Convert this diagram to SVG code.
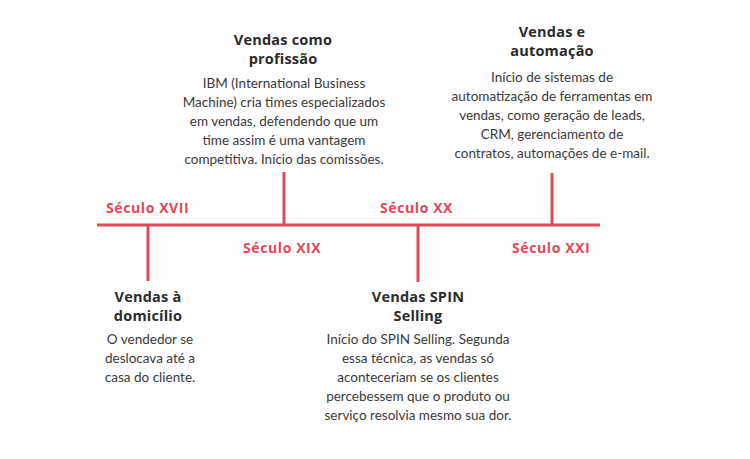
<svg xmlns="http://www.w3.org/2000/svg" width="750" height="459" viewBox="0 0 750 459">
<style>
.ln{stroke:#e04a57;stroke-width:3;fill:none}
.era{font-family:"Open Sans","Liberation Sans",sans-serif;font-weight:bold;font-size:14px;letter-spacing:0.6px;fill:#e04a57}
.t{font-family:"Open Sans","Liberation Sans",sans-serif;font-weight:bold;font-size:14.5px;letter-spacing:0.2px;fill:#2b2b2b;text-anchor:middle}
.b{font-family:Lato,"Liberation Sans",sans-serif;font-size:13.5px;fill:#3a3a3a;text-anchor:middle}
</style>
<rect width="750" height="459" fill="#fff"/>
<g id="connectors">
<line class="ln" x1="97" y1="225" x2="600" y2="225"/>
<line class="ln" x1="148" y1="225" x2="148" y2="281"/>
<line class="ln" x1="284" y1="172" x2="284" y2="225"/>
<line class="ln" x1="418" y1="225" x2="418" y2="282"/>
<line class="ln" x1="552" y1="173" x2="552" y2="225"/>
</g>
<g id="eras">
<text class="era" x="106" y="213">Século XVII</text>
<text class="era" x="243" y="253">Século XIX</text>
<text class="era" x="380" y="213">Século XX</text>
<text class="era" x="512" y="253">Século XXI</text>
</g>
<g id="n1">
<text class="t" x="148" y="302">Vendas à</text>
<text class="t" x="148" y="321">domicílio</text>
<text class="b" x="150" y="344">O vendedor se</text>
<text class="b" x="150" y="363">deslocava até a</text>
<text class="b" x="150" y="382">casa do cliente.</text>
</g>
<g id="n2">
<text class="t" x="283" y="45">Vendas como</text>
<text class="t" x="283" y="64">profissão</text>
<text class="b" x="284" y="88">IBM (International Business</text>
<text class="b" x="284" y="107">Machine) cria times especializados</text>
<text class="b" x="284" y="126">em vendas, defendendo que um</text>
<text class="b" x="284" y="145">time assim é uma vantagem</text>
<text class="b" x="284" y="164">competitiva. Início das comissões.</text>
</g>
<g id="n3">
<text class="t" x="418" y="302">Vendas SPIN</text>
<text class="t" x="418" y="321">Selling</text>
<text class="b" x="418" y="344">Início do SPIN Selling. Segunda</text>
<text class="b" x="418" y="363">essa técnica, as vendas só</text>
<text class="b" x="418" y="382">aconteceriam se os clientes</text>
<text class="b" x="418" y="401">percebessem que o produto ou</text>
<text class="b" x="418" y="420">serviço resolvia mesmo sua dor.</text>
</g>
<g id="n4">
<text class="t" x="552" y="37">Vendas e</text>
<text class="t" x="552" y="56">automação</text>
<text class="b" x="552" y="82">Início de sistemas de</text>
<text class="b" x="552" y="101">automatização de ferramentas em</text>
<text class="b" x="552" y="120">vendas, como geração de leads,</text>
<text class="b" x="552" y="139">CRM, gerenciamento de</text>
<text class="b" x="552" y="158">contratos, automações de e-mail.</text>
</g>
</svg>
